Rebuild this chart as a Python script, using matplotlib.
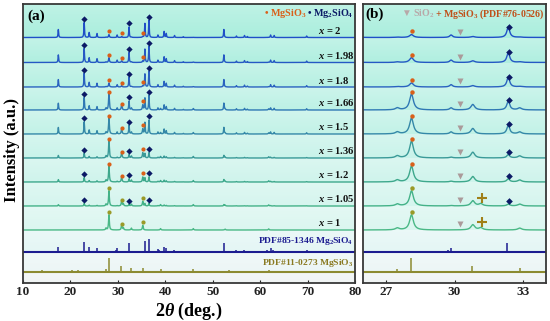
import numpy as np
import matplotlib
matplotlib.use("Agg")
import matplotlib.pyplot as plt
from matplotlib.colors import to_rgb

plt.rcParams['font.family'] = ['Liberation Serif', 'DejaVu Sans']
plt.rcParams['font.weight'] = 'bold'
plt.rcParams['mathtext.fontset'] = 'custom'
plt.rcParams['mathtext.rm'] = 'Liberation Serif:bold'
plt.rcParams['mathtext.it'] = 'Liberation Serif:italic:bold'
plt.rcParams['mathtext.bf'] = 'Liberation Serif:bold'

############ DATA ############

samples = ['2', '1.98', '1.8', '1.66', '1.5', '1.36', '1.2', '1.05', '1']
offsets = [245.5, 220.5, 196, 173, 149, 125, 101, 77, 53]
pdf_offsets = [31, 11]

# Mg2SiO4 (forsterite) peaks seen in the x = 2 pattern
fo_pos = [17.45, 22.9, 23.95, 25.6, 29.85, 32.35, 35.7, 36.55, 38.45, 39.75,
          40.2, 41.95, 43.8, 52.35, 55.0, 56.7, 57.3, 62.2, 62.95, 69.8]
fo_h = [8, 15, 5, 4, 2.5, 10.5, 14, 17, 2.5, 6,
        4, 2, 0.8, 8, 1.5, 2, 1, 2.5, 2, 1.5]
# MgSiO3 peaks seen in the x = 1 pattern
en_pos = [27.5, 28.12, 30.8, 32.85, 35.25, 39.0, 45.9, 52.6, 61.8]
en_h = [2, 16, 5.5, 2, 5, 1.5, 1.5, 1, 1.2]
# MgSiO3 (PDF#76-0526) shoulder
cen_pos = [31.15]
cen_h = [2.2]

fo_scale = [1.0, 0.95, 0.93, 0.85, 0.82, 0.32, 0.3, 0.17, 0.0]
en_scale = [0.18, 0.3, 0.25, 1.0, 1.0, 1.05, 1.0, 0.95, 0.95]
cen_scale = [0, 0, 0, 0, 0, 0, 0, 1, 1]

# reference sticks
pdf_fo_pos = [17.45, 20.0, 22.9, 23.9, 25.5, 29.7, 29.85, 32.3, 35.7, 36.55,
              38.4, 38.7, 39.7, 40.1, 41.9, 44.5, 46.3, 48.5, 49.5, 51.0,
              51.5, 52.3, 53.0, 53.6, 55.0, 55.5, 56.6, 57.3, 58.2, 58.7,
              59.8, 61.0, 61.5, 62.2, 62.8, 63.8, 64.5, 65.5, 66.2, 67.3,
              69.8, 71.0, 73.0, 74.5, 77.0, 79.0]
pdf_fo_h = [5, 1, 10.5, 5, 4, 2, 4, 9.5, 11, 13,
            3, 2.5, 5, 4, 2.5, 1.5, 1, 1, 1.5, 1.5,
            1.5, 9, 1.5, 1, 2, 1.5, 2, 1.5, 1, 1,
            1, 1.5, 2, 4, 2.5, 1.5, 1.5, 1, 1, 1,
            2, 1, 1, 1, 1, 1]
pdf_en_pos = [14.1, 19.2, 20.3, 21.6, 27.5, 28.1, 30.75, 32.2, 32.85, 35.2,
              36.6, 38.2, 39.0, 40.5, 42.6, 44.0, 45.9, 47.8, 50.0, 51.5,
              53.5, 55.5, 56.8, 58.9, 61.9, 64.1, 67.3, 69.1]
pdf_en_h = [2, 1, 2, 2, 3.5, 14, 6, 1, 4, 4,
            1, 1, 3, 1, 1.5, 1, 3, 1, 1, 1,
            2, 1, 1, 1.5, 2.5, 1, 1, 1]

pdf_labels = ['PDF#85-1346 Mg$_2$SiO$_4$', 'PDF#11-0273 MgSiO$_3$']

# marker positions
dot_a = [28.15, 30.9, 35.25]
dia_a = [22.9, 32.35, 36.55]
dot_b = 28.15
tri_b = 30.25
dia_b = 32.4
plus_b = 31.2

############ STYLE ############

trace_colors = ['#1f4fc8', '#2558c4', '#2a62c0', '#2f78b4', '#3588a8',
                '#3a9a98', '#3ea88c', '#44b288', '#4ab886']
pdf_colors = ['#1c1c90', '#8c8a30']
orange = '#d9601a'
olive = '#9a9a28'
navy = '#0c1a66'
band_colors = ['#aaeedd', '#b0efe0', '#b6f0e2', '#bcf1e5', '#c2f2e7',
               '#c9f3ea', '#cff4ec', '#d5f5ee', '#dbf6f0', '#e4f6f5',
               '#ecf6f6', '#f0f4f4']
ymax = 279


def profile(x, pos, h, w):
    y = np.zeros_like(x)
    for p, a in zip(pos, h):
        y += a / (1 + ((x - p) / (w / 2)) ** 2)
    return y


xx = np.arange(10, 80, 0.005)
curves = []
for i in range(len(samples)):
    c = (profile(xx, fo_pos, np.array(fo_h) * fo_scale[i], 0.15)
         + profile(xx, en_pos, np.array(en_h) * en_scale[i], 0.2)
         + profile(xx, cen_pos, np.array(cen_h) * cen_scale[i], 0.2))
    curves.append(c + offsets[i])

# background: bands with a light vertical gradient
bounds = [ymax] + offsets + pdf_offsets + [0]
rows = np.arange(ymax) + 0.5
bg = np.zeros((ymax, 1, 3))
for k in range(len(bounds) - 1):
    top, bot = bounds[k], bounds[k + 1]
    sel = (rows < top) & (rows >= bot)
    frac = (rows[sel] - bot) / (top - bot)
    base = np.array(to_rgb(band_colors[k]))
    light = base + (1 - base) * 0.25
    bg[sel, 0, :] = base[None, :] * (1 - frac[:, None]) + light[None, :] * frac[:, None]

fig = plt.figure(figsize=(5.5, 3.21), dpi=100)
ax_a = fig.add_axes([23 / 550, 1 - 283 / 321, 332 / 550, 279 / 321])
ax_b = fig.add_axes([363 / 550, 1 - 283 / 321, 183 / 550, 279 / 321])

for ax, (x0, x1) in [(ax_a, (10, 80)), (ax_b, (26, 34))]:
    ax.imshow(bg, extent=[x0, x1, 0, ymax], aspect='auto', origin='lower',
              interpolation='bilinear', zorder=0)
    for i in range(len(samples)):
        ax.plot(xx, curves[i], color=trace_colors[i], lw=1.0, zorder=2)
    for off, pos, h, col in zip(pdf_offsets, [pdf_fo_pos, pdf_en_pos],
                                [pdf_fo_h, pdf_en_h], pdf_colors):
        ax.axhline(off, color=col, lw=1.5, zorder=2)
        ax.vlines(pos, off, off + np.array(h), color=col, lw=1.1, zorder=2)
    ax.set_xlim(x0, x1)
    ax.set_ylim(0, ymax)
    ax.set_yticks([])
    for s in ax.spines.values():
        s.set_color('#383838')
        s.set_linewidth(1.3)
    ax.tick_params(axis='x', direction='in', length=2.5, labelsize=9.5,
                   pad=2, colors='#222222')

ax_a.set_xticks(range(10, 81, 10))
ax_b.set_xticks([27, 30, 33])

# panel (a) markers and labels
for i in range(len(samples)):
    dc = orange if i < 7 else olive
    for p in dot_a:
        ax_a.plot(p, np.interp(p, xx, curves[i]) + 3.5, 'o', ms=3,
                  color=dc, mec='none', zorder=3)
    if fo_scale[i] > 0:
        for p in dia_a:
            ax_a.plot(p, np.interp(p, xx, curves[i]) + 3.5, 'D', ms=3.2,
                      color=navy, mec='none', zorder=3)
    ax_a.text(72.2, offsets[i] + 7, '$x$ = ' + samples[i], fontsize=7.6,
              ha='left', va='center', color='#111111')

ax_a.text(79.6, pdf_offsets[0] + 11, pdf_labels[0], fontsize=6.8,
          ha='right', va='center', color=pdf_colors[0])
ax_a.text(79.6, pdf_offsets[1] + 9, pdf_labels[1], fontsize=6.8,
          ha='right', va='center', color='#8a7a22')

ax_a.text(0.012, 0.955, '(a)', transform=ax_a.transAxes, fontsize=11,
          ha='left', va='center')
t_fo = ax_a.text(79.6, 269, '• Mg$_2$SiO$_4$', fontsize=7.3, ha='right',
                 va='center', color=navy)
ax_a.annotate('• MgSiO$_3$ ', xy=(0, 0.5), xycoords=t_fo, fontsize=7.3,
              ha='right', va='center', color=orange)

# panel (b) markers and legend
for i in range(len(samples)):
    dc = orange if i < 7 else olive
    ax_b.plot(dot_b, np.interp(dot_b, xx, curves[i]) + 3.5, 'o', ms=3.2,
              color=dc, mec='none', zorder=3)
    ax_b.plot(tri_b, offsets[i] + 6, 'v', ms=4.2, color='#ab9a9a',
              mec='none', zorder=3)
    if fo_scale[i] > 0:
        ax_b.plot(dia_b, np.interp(dia_b, xx, curves[i]) + 3.5, 'D', ms=3.4,
                  color=navy, mec='none', zorder=3)
    if cen_scale[i] > 0:
        ax_b.plot(plus_b, np.interp(plus_b, xx, curves[i]) + 5.5, '+', ms=7,
                  mew=1.5, color='#a08018', zorder=3)

ax_b.text(0.015, 0.965, '(b)', transform=ax_b.transAxes, fontsize=11,
          ha='left', va='center')
t_en = ax_b.text(33.93, 269, '+ MgSiO$_3$ (PDF#76-0526)', fontsize=7.1,
                 ha='right', va='center', color='#c0501a')
ax_b.annotate('▼ SiO$_2$ ', xy=(0, 0.5), xycoords=t_en, fontsize=7.1,
              ha='right', va='center', color='#b8a8a8')

fig.text(189 / 550, 1 - 311 / 321, r'2$\theta$ (deg.)', fontsize=13,
         ha='center', va='center')
fig.text(12 / 550, 1 - 150 / 321, 'Intensity (a.u.)', fontsize=12,
         rotation=90, ha='center', va='center')

fig.savefig('out.png', dpi=100)
